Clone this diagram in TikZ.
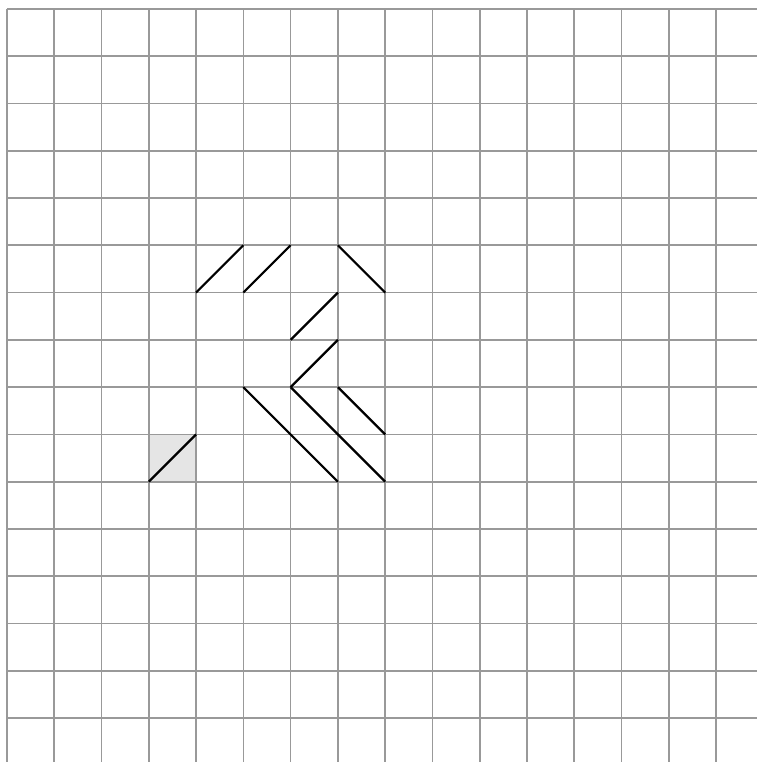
\documentclass[tikz,border=0pt]{standalone}
\usepackage{tikz}
\usetikzlibrary{calc}

\begin{document}
\begin{tikzpicture}[
    grade/.style={
        draw=gray!80,
        line width=1pt
    },
    traco/.style={
        draw=black,
        line width=1.3pt
    },
    celula/.style={
        fill=gray!20
    }
]

\useasboundingbox (-0.148,0.07) rectangle (15.867,16.19);

% ---------------- celula cinza ----------------

\fill[celula] (3,6) rectangle (4,7);

% ---------------- grade ----------------

\draw[grade] (0,0.07) grid (15.867,16);

% ---------------- tracos ----------------

\coordinate (a1) at (4,10);
\coordinate (a2) at (5,11);
\coordinate (b1) at (5,10);
\coordinate (b2) at (6,11);
\coordinate (c1) at (7,11);
\coordinate (c2) at (8,10);
\coordinate (d1) at (6,9);
\coordinate (d2) at (7,10);
\coordinate (e1) at (6,8);
\coordinate (e2) at (7,9);
\coordinate (f1) at (5,8);
\coordinate (f2) at (7,6);
\coordinate (g2) at (8,6);
\coordinate (h1) at (7,8);
\coordinate (h2) at (8,7);
\coordinate (i1) at (3,6);
\coordinate (i2) at (4,7);

\draw[traco] (a1) -- (a2);
\draw[traco] (b1) -- (b2);
\draw[traco] (c1) -- (c2);
\draw[traco] (d1) -- (d2);
\draw[traco] (e1) -- (e2);
\draw[traco] (f1) -- (f2);
\draw[traco] (e1) -- (g2);
\draw[traco] (h1) -- (h2);
\draw[traco] (i1) -- (i2);

\end{tikzpicture}
\end{document}
